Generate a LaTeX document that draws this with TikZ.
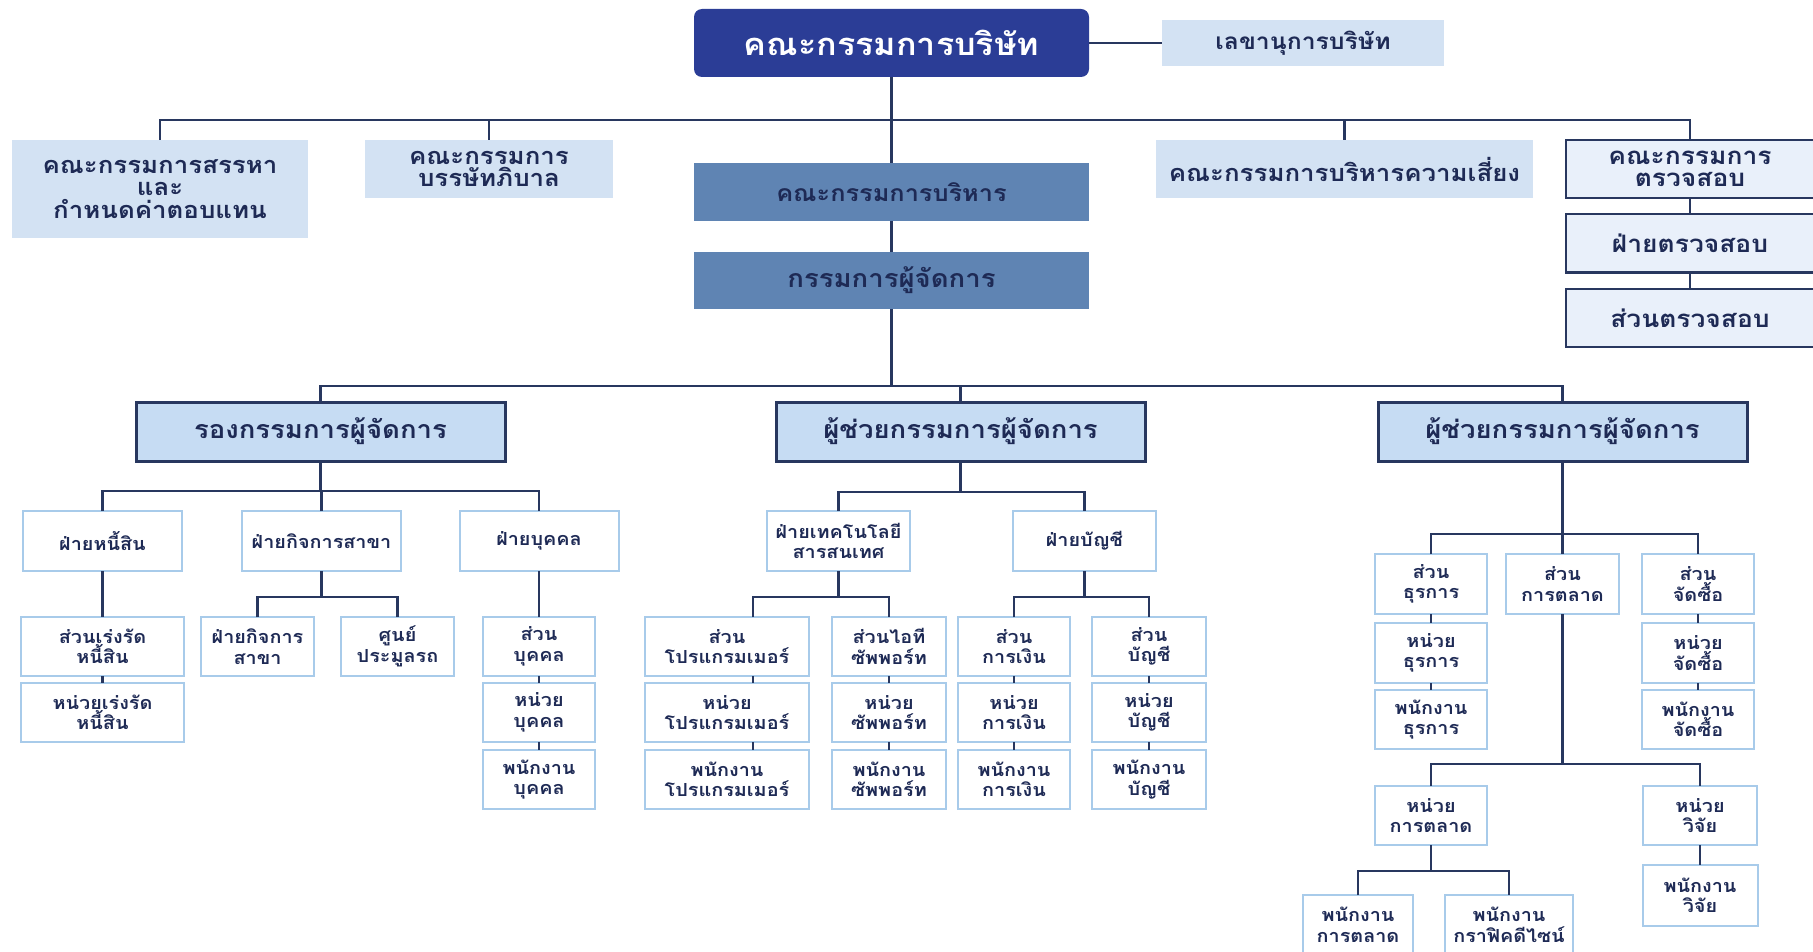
\documentclass[tikz,border=0pt]{standalone}
\usepackage{fontspec}
\newfontfamily\thaifont[Script=Thai, FakeStretch=1.1]{Loma}
\usetikzlibrary{positioning}

\definecolor{navy}{RGB}{40,55,95}
\definecolor{textc}{RGB}{30,42,85}
\definecolor{boardc}{RGB}{43,61,150}
\definecolor{commc}{RGB}{211,226,243}
\definecolor{execc}{RGB}{95,132,179}
\definecolor{vpc}{RGB}{198,220,243}
\definecolor{auditc}{RGB}{233,240,250}
\definecolor{unitc}{RGB}{168,203,234}

\begin{document}
\begin{tikzpicture}[x=1pt, y=-1pt,
    every node/.style={align=center, inner sep=0pt, outer sep=0pt, text=textc,
        font=\thaifont\bfseries\fontsize{23.5}{22.5}\selectfont},
    board/.style={fill=boardc, rounded corners=8pt, minimum width=395pt, minimum height=68pt,
        text=white, font=\thaifont\bfseries\fontsize{31}{32}\selectfont},
    comm/.style={fill=commc, minimum height=58pt},
    mgmt/.style={fill=execc, minimum width=395pt, minimum height=58pt,
        font=\thaifont\bfseries\fontsize{23}{24}\selectfont},
    audbox/.style={draw=navy, line width=2pt, fill=auditc, minimum width=248pt, minimum height=58pt,
        font=\thaifont\bfseries\fontsize{24}{22.5}\selectfont},
    vpbox/.style={draw=navy, line width=3pt, fill=vpc, minimum width=369pt, minimum height=59pt,
        font=\thaifont\bfseries\fontsize{25}{26}\selectfont},
    unitbox/.style={draw=unitc, line width=2pt, fill=white, minimum height=59pt,
        font=\thaifont\bfseries\fontsize{18}{20.5}\selectfont}, % small boxes
    link/.style={draw=navy, line width=2.5pt}
  ]
  \useasboundingbox (0,0) rectangle (1813,952);

  % board and committees
  \node[board] (board) at (891.5,43) {คณะกรรมการบริษัท};
  \node[comm, minimum width=282pt, minimum height=46pt, font=\thaifont\bfseries\fontsize{22.5}{22}\selectfont] (secr) at (1303,43) {เลขานุการบริษัท};
  \node[comm, minimum width=296pt, minimum height=98pt] (nomin) at (160,189) {คณะกรรมการสรรหา\\และ\\กำหนดค่าตอบแทน};
  \node[comm, minimum width=248pt] (gov) at (489,169) {คณะกรรมการ\\บรรษัทภิบาล};
  \node[mgmt] (execc) at (891.5,192) {คณะกรรมการบริหาร};
  \node[mgmt, minimum height=57pt, font=\thaifont\bfseries\fontsize{25}{26}\selectfont] (md) at (891.5,280.5) {กรรมการผู้จัดการ};
  \node[comm, minimum width=377pt] (risk) at (1344.5,169) {คณะกรรมการบริหารความเสี่ยง};
  \node[audbox] (audit) at (1690,169) {คณะกรรมการ\\ตรวจสอบ};
  \node[audbox] (auddept) at (1690,243.5) {ฝ่ายตรวจสอบ};
  \node[audbox] (audsec) at (1690,318) {ส่วนตรวจสอบ};

  \coordinate (bus1) at (0,120);
  \draw[link] (board) -- (secr);
  \draw[link] (board) -- (execc);
  \draw[link] (execc) -- (md);
  \draw[link] (nomin.north) -- (nomin.north |- bus1) -- (audit.north |- bus1) -- (audit.north);
  \foreach \n in {gov,risk} \draw[link] (\n.north) -- (\n.north |- bus1);
  \draw[link] (audit) -- (auddept);
  \draw[link] (auddept) -- (audsec);

  % deputy and assistants
  \node[vpbox] (vpd) at (320.5,431.5) {รองกรรมการผู้จัดการ};
  \node[vpbox] (asst1) at (960.5,431.5) {ผู้ช่วยกรรมการผู้จัดการ};
  \node[vpbox] (asst2) at (1562.5,431.5) {ผู้ช่วยกรรมการผู้จัดการ};

  \coordinate (bus2) at (0,386);
  \draw[link] (md.south) -- (md.south |- bus2);
  \draw[link] (vpd.north) -- (vpd.north |- bus2) -- (asst2.north |- bus2) -- (asst2.north);
  \draw[link] (asst1.north) -- (asst1.north |- bus2);

  % deputy branch
  \node[unitbox, minimum width=159pt, minimum height=60pt] (debt) at (102.5,541) {ฝ่ายหนี้สิน};
  \node[unitbox, minimum width=159pt, minimum height=60pt] (branch) at (321.5,541) {ฝ่ายกิจการสาขา};
  \node[unitbox, minimum width=159pt, minimum height=60pt] (hr) at (539,541) {ฝ่ายบุคคล};
  \node[unitbox, minimum width=163pt] (debtsec) at (102.5,646.5) {ส่วนเร่งรัด\\หนี้สิน};
  \node[unitbox, minimum width=163pt] (debtunit) at (102.5,712.5) {หน่วยเร่งรัด\\หนี้สิน};
  \node[unitbox, minimum width=113pt] (brdept) at (257.5,646.5) {ฝ่ายกิจการ\\สาขา};
  \node[unitbox, minimum width=113pt] (auction) at (397.5,646.5) {ศูนย์\\ประมูลรถ};
  \node[unitbox, minimum width=112pt] (hrsec) at (539,646.5) {ส่วน\\บุคคล};
  \node[unitbox, minimum width=112pt] (hrunit) at (539,712.5) {หน่วย\\บุคคล};
  \node[unitbox, minimum width=112pt] (hrstaff) at (539,779.5) {พนักงาน\\บุคคล};

  \coordinate (busA) at (0,491);
  \coordinate (busB) at (0,597);
  \draw[link] (vpd.south) -- (vpd.south |- busA);
  \draw[link] (debt.north) -- (debt.north |- busA) -- (hr.north |- busA) -- (hr.north);
  \draw[link] (branch.north) -- (branch.north |- busA);
  \draw[link] (debt) -- (debtsec);
  \draw[link] (debtsec) -- (debtunit);
  \draw[link] (branch.south) -- (branch.south |- busB);
  \draw[link] (brdept.north) -- (brdept.north |- busB) -- (auction.north |- busB) -- (auction.north);
  \draw[link] (hr) -- (hrsec);
  \draw[link] (hrsec) -- (hrunit);
  \draw[link] (hrunit) -- (hrstaff);

  % first assistant
  \node[unitbox, minimum width=143pt, minimum height=60pt] (it) at (838.5,541) {ฝ่ายเทคโนโลยี\\สารสนเทศ};
  \node[unitbox, minimum width=143pt, minimum height=60pt] (acct) at (1084.5,541) {ฝ่ายบัญชี};
  \node[unitbox, minimum width=164pt] (progsec) at (727,646.5) {ส่วน\\โปรแกรมเมอร์};
  \node[unitbox, minimum width=164pt] (progunit) at (727,712.5) {หน่วย\\โปรแกรมเมอร์};
  \node[unitbox, minimum width=164pt] (progstaff) at (727,779.5) {พนักงาน\\โปรแกรมเมอร์};
  \node[unitbox, minimum width=114pt] (supsec) at (889,646.5) {ส่วนไอที\\ซัพพอร์ท};
  \node[unitbox, minimum width=114pt] (supunit) at (889,712.5) {หน่วย\\ซัพพอร์ท};
  \node[unitbox, minimum width=114pt] (supstaff) at (889,779.5) {พนักงาน\\ซัพพอร์ท};
  \node[unitbox, minimum width=112pt] (finsec) at (1014,646.5) {ส่วน\\การเงิน};
  \node[unitbox, minimum width=112pt] (finunit) at (1014,712.5) {หน่วย\\การเงิน};
  \node[unitbox, minimum width=112pt] (finstaff) at (1014,779.5) {พนักงาน\\การเงิน};
  \node[unitbox, minimum width=114pt] (accsec) at (1149,646.5) {ส่วน\\บัญชี};
  \node[unitbox, minimum width=114pt] (accunit) at (1149,712.5) {หน่วย\\บัญชี};
  \node[unitbox, minimum width=114pt] (accstaff) at (1149,779.5) {พนักงาน\\บัญชี};

  \coordinate (busC) at (0,492);
  \coordinate (busD) at (0,597);
  \coordinate (progx) at (753,0); % line is off centre here
  \draw[link] (asst1.south) -- (asst1.south |- busC);
  \draw[link] (it.north) -- (it.north |- busC) -- (acct.north |- busC) -- (acct.north);
  \draw[link] (it.south) -- (it.south |- busD);
  \draw[link] (progsec.north -| progx) -- (progx |- busD) -- (supsec.north |- busD) -- (supsec.north);
  \draw[link] (progsec.south -| progx) -- (progunit.north -| progx);
  \draw[link] (progunit.south -| progx) -- (progstaff.north -| progx);
  \draw[link] (supsec) -- (supunit);
  \draw[link] (supunit) -- (supstaff);
  \draw[link] (acct.south) -- (acct.south |- busD);
  \draw[link] (finsec.north) -- (finsec.north |- busD) -- (accsec.north |- busD) -- (accsec.north);
  \draw[link] (finsec) -- (finunit);
  \draw[link] (finunit) -- (finstaff);
  \draw[link] (accsec) -- (accunit);
  \draw[link] (accunit) -- (accstaff);

  % second assistant
  \node[unitbox, minimum width=112pt, minimum height=60pt] (admsec) at (1431,584) {ส่วน\\ธุรการ};
  \node[unitbox, minimum width=112pt, minimum height=60pt] (admunit) at (1431,653) {หน่วย\\ธุรการ};
  \node[unitbox, minimum width=112pt] (admstaff) at (1431,719.5) {พนักงาน\\ธุรการ};
  \node[unitbox, minimum width=113pt, minimum height=60pt] (mktsec) at (1562.5,584) {ส่วน\\การตลาด};
  \node[unitbox, minimum width=112pt, minimum height=60pt] (pursec) at (1698,584) {ส่วน\\จัดซื้อ};
  \node[unitbox, minimum width=112pt, minimum height=60pt] (purunit) at (1698,653) {หน่วย\\จัดซื้อ};
  \node[unitbox, minimum width=112pt] (purstaff) at (1698,719.5) {พนักงาน\\จัดซื้อ};
  \node[unitbox, minimum width=112pt] (mktunit) at (1431,815.5) {หน่วย\\การตลาด};
  \node[unitbox, minimum width=114pt] (rschunit) at (1700,815.5) {หน่วย\\วิจัย};
  \node[unitbox, minimum width=115pt, minimum height=61pt] (rschstaff) at (1700,895.5) {พนักงาน\\วิจัย};
  \node[unitbox, minimum width=110pt, minimum height=60pt] (mktstaff) at (1358,925) {พนักงาน\\การตลาด};
  \node[unitbox, minimum width=128pt, minimum height=60pt] (gfxstaff) at (1509,925) {พนักงาน\\กราฟิคดีไซน์};

  \coordinate (busE) at (0,534);
  \coordinate (busF) at (0,764);
  \coordinate (busG) at (0,871);
  \draw[link] (asst2) -- (mktsec);
  \draw[link] (admsec.north) -- (admsec.north |- busE) -- (pursec.north |- busE) -- (pursec.north);
  \draw[link] (admsec) -- (admunit);
  \draw[link] (admunit) -- (admstaff);
  \draw[link] (pursec) -- (purunit);
  \draw[link] (purunit) -- (purstaff);
  \draw[link] (mktsec.south) -- (mktsec.south |- busF);
  \draw[link] (mktunit.north) -- (mktunit.north |- busF) -- (rschunit.north |- busF) -- (rschunit.north);
  \draw[link] (rschunit) -- (rschstaff);
  \draw[link] (mktunit.south) -- (mktunit.south |- busG);
  \draw[link] (mktstaff.north) -- (mktstaff.north |- busG) -- (gfxstaff.north |- busG) -- (gfxstaff.north);
\end{tikzpicture}
\end{document}
